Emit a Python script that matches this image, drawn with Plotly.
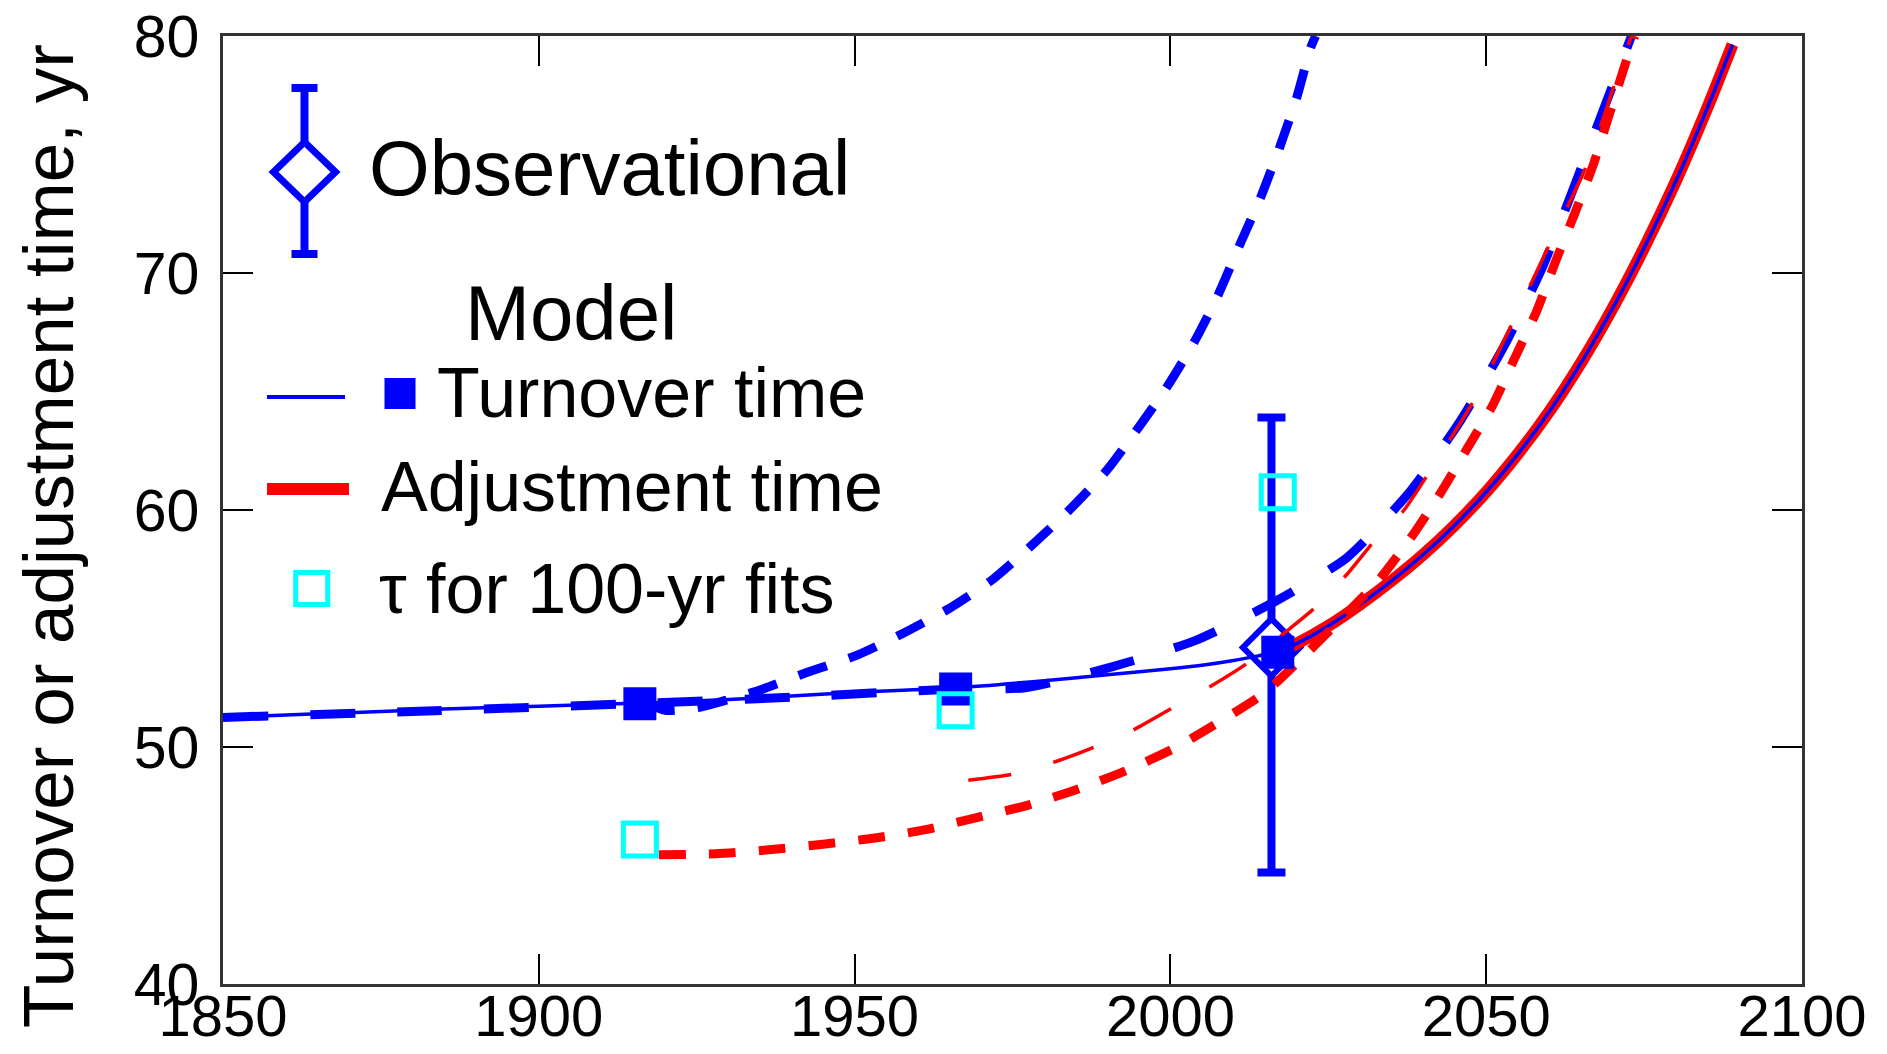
import plotly.graph_objects as go

# ---------------- data ----------------
# Model turnover time (thin solid blue)
turn_years = [1850, 1860, 1870, 1880, 1890, 1900, 1910, 1917, 1930, 1940, 1950, 1966,
              1980, 1990, 2000, 2005, 2010, 2015, 2017, 2020, 2025, 2030, 2035, 2040,
              2045, 2050, 2055, 2060, 2065, 2070, 2075, 2080, 2085, 2089]
turn_vals = [51.25, 51.35, 51.45, 51.55, 51.65, 51.72, 51.8, 51.86, 52.0, 52.15, 52.3, 52.5,
             52.8, 53.05, 53.3, 53.45, 53.65, 53.9, 54.0, 54.36, 55.11, 56.01, 57.01, 58.11,
             59.36, 60.76, 62.36, 64.16, 66.21, 68.51, 71.06, 73.86, 76.96, 79.64]

# Model adjustment time (thick solid red)
adj_years = [2017, 2020, 2025, 2030, 2035, 2040, 2045, 2050, 2055, 2060, 2065, 2070,
             2075, 2080, 2085, 2089]
adj_vals = [54.0, 54.36, 55.11, 56.01, 57.01, 58.11, 59.36, 60.76, 62.36, 64.16, 66.21, 68.51,
            71.06, 73.86, 76.96, 79.64]

# Turnover time, fit starting 1917 (blue short dashes, steep)
tA_years = [1917, 1920, 1925, 1930, 1935, 1942, 1950.6, 1957.7, 1965, 1972, 1978, 1984,
            1990, 1995, 1999.6, 2004, 2007.6, 2011, 2014.3, 2017.3, 2020, 2022.2, 2023]
tA_vals = [51.85, 51.55, 51.65, 52.0, 52.4, 53.1, 53.9, 54.8, 55.85, 57.1, 58.5, 60.0,
           61.7, 63.5, 65.25, 67.2, 69.1, 71.2, 73.2, 75.3, 77.4, 79.5, 80.0]

# Turnover time, fit starting 1966 (blue long dashes)
tB_years = [1850, 1880, 1917, 1940, 1966, 1977, 1991, 2004, 2017, 2028, 2038, 2046,
            2053, 2059, 2064, 2069, 2073]
tB_vals = [51.25, 51.5, 51.85, 52.1, 52.45, 52.5, 53.4, 54.5, 56.2, 58.0, 60.8, 63.8,
           67.0, 70.3, 73.7, 77.2, 80.0]

# Adjustment time, fit starting 1968 (thin red dashes)
aC_years = [1968, 1975, 1982, 1988, 1994, 2000, 2006, 2012, 2018, 2023, 2028, 2032,
            2037, 2041, 2048, 2054, 2060, 2066, 2070.5, 2073]
aC_vals = [48.6, 48.85, 49.4, 50.0, 50.7, 51.6, 52.5, 53.5, 54.8, 55.9, 57.3, 58.6,
           60.0, 61.6, 64.6, 67.8, 71.2, 74.6, 78.1, 80.0]

# Adjustment time, fit starting 1919 (thick red short dashes)
aD_years = [1919, 1928, 1936, 1945, 1953, 1961, 1969, 1977.5, 1985.6, 1993, 2001, 2008,
            2015, 2021, 2027, 2033, 2038, 2042.5, 2047, 2051, 2054.5, 2058, 2061, 2064,
            2067, 2069.5, 2072, 2073.5]
aD_vals = [45.45, 45.5, 45.65, 45.9, 46.15, 46.5, 47.0, 47.55, 48.25, 49.0, 50.0, 51.1,
           52.3, 53.8, 55.4, 57.05, 58.8, 60.6, 62.6, 64.4, 66.4, 68.4, 70.5, 72.5,
           74.6, 76.7, 78.8, 80.0]

# Model turnover time markers (filled squares)
sq_years = [1916, 1966, 2017]
sq_vals = [51.83, 52.45, 54.0]

# tau for 100-yr fits (open cyan squares)
tau_years = [1916, 1966, 2017]
tau_vals = [46.1, 51.55, 60.75]

# Observational estimate with error bar
obs_year = [2016]
obs_val = [54.2]
obs_plus = [9.7]
obs_minus = [9.5]

x_ticks = [1850, 1900, 1950, 2000, 2050, 2100]
y_ticks = [40, 50, 60, 70, 80]

BLUE = "#0000ff"
RED = "#ff0000"
CYAN = "#00ffff"
FONT = "Liberation Sans, Arial, Helvetica, sans-serif"

fig = go.Figure()

# Observational (error bar + white-filled diamond)
fig.add_trace(go.Scatter(
    x=obs_year, y=obs_val, mode="markers",
    marker=dict(symbol="diamond", size=44, color="white", line=dict(color=BLUE, width=6)),
    error_y=dict(type="data", symmetric=False, array=obs_plus, arrayminus=obs_minus,
                 color=BLUE, thickness=8, width=14),
    showlegend=False, hoverinfo="skip"))

# blue dashed fits
fig.add_trace(go.Scatter(x=tA_years, y=tA_vals, mode="lines",
                         line=dict(color=BLUE, width=9, dash="30px,23px", shape="spline", smoothing=0.6),
                         showlegend=False))
fig.add_trace(go.Scatter(x=tB_years, y=tB_vals, mode="lines",
                         line=dict(color=BLUE, width=9, dash="45px,42px", shape="spline", smoothing=0.6),
                         showlegend=False))

# red thick solid adjustment time
fig.add_trace(go.Scatter(x=adj_years, y=adj_vals, mode="lines",
                         line=dict(color=RED, width=12, shape="spline", smoothing=0.8),
                         showlegend=False))
# thin blue turnover time
fig.add_trace(go.Scatter(x=turn_years, y=turn_vals, mode="lines",
                         line=dict(color=BLUE, width=3.5, shape="spline", smoothing=0.8),
                         showlegend=False))

# red dashed fits
fig.add_trace(go.Scatter(x=aD_years, y=aD_vals, mode="lines",
                         line=dict(color=RED, width=9, dash="27px,23px", shape="spline", smoothing=0.6),
                         showlegend=False))
fig.add_trace(go.Scatter(x=aC_years, y=aC_vals, mode="lines",
                         line=dict(color=RED, width=3.5, dash="43px,44px", shape="spline", smoothing=0.6),
                         showlegend=False))

# filled squares
fig.add_trace(go.Scatter(x=sq_years, y=sq_vals, mode="markers",
                         marker=dict(symbol="square", size=33, color=BLUE, line=dict(width=0)),
                         showlegend=False))
# cyan open squares
fig.add_trace(go.Scatter(x=tau_years, y=tau_vals, mode="markers",
                         marker=dict(symbol="square", size=33, color="rgba(0,0,0,0)",
                                     line=dict(color=CYAN, width=5)),
                         showlegend=False))

# ---------------- legend (drawn in paper coordinates) ----------------
L, T, W, H = 223.0, 36.0, 1579.0, 948.0


def px(x):
    return (x - L) / W


def py(y):
    return (T + H - y) / H


shapes = []
annotations = []

# observational key: error bar + diamond
cx, cy = 304.5, 172
shapes.append(dict(type="line", xref="paper", yref="paper", x0=px(cx), x1=px(cx),
                   y0=py(88), y1=py(254), line=dict(color=BLUE, width=8), layer="above"))
for yy in (88, 254):
    shapes.append(dict(type="line", xref="paper", yref="paper", x0=px(cx - 13), x1=px(cx + 13),
                       y0=py(yy), y1=py(yy), line=dict(color=BLUE, width=8), layer="above"))
dpath = "M {a},{b} L {c},{d} L {e},{f} L {g},{h} Z".format(
    a=px(cx - 31), b=py(cy), c=px(cx), d=py(cy - 30),
    e=px(cx + 31), f=py(cy), g=px(cx), h=py(cy + 30))
shapes.append(dict(type="path", xref="paper", yref="paper", path=dpath,
                   fillcolor="white", line=dict(color=BLUE, width=7), layer="above"))

# turnover key
shapes.append(dict(type="line", xref="paper", yref="paper", x0=px(267), x1=px(345),
                   y0=py(397), y1=py(397), line=dict(color=BLUE, width=4), layer="above"))
shapes.append(dict(type="rect", xref="paper", yref="paper", x0=px(384.5), x1=px(415.5),
                   y0=py(409), y1=py(378), fillcolor=BLUE, line=dict(width=0), layer="above"))
# adjustment key
shapes.append(dict(type="line", xref="paper", yref="paper", x0=px(267), x1=px(349),
                   y0=py(489), y1=py(489), line=dict(color=RED, width=12), layer="above"))
# tau key
shapes.append(dict(type="rect", xref="paper", yref="paper", x0=px(295.7), x1=px(327.7),
                   y0=py(604.5), y1=py(572.5), fillcolor="rgba(0,0,0,0)",
                   line=dict(color=CYAN, width=5), layer="above"))

legend_texts = [
    ("Observational", 367, 168, 78),
    ("Model", 463, 313, 78),
    ("Turnover time", 435, 393, 70),
    ("Adjustment time", 379, 487, 70),
    ("\u03c4 for 100-yr fits", 377, 589, 70),
]
for txt, x0, y0, fs in legend_texts:
    annotations.append(dict(text=txt, xref="paper", yref="paper", x=px(x0), y=py(y0),
                            xanchor="left", yanchor="middle", showarrow=False,
                            font=dict(family=FONT, size=fs, color="black")))

# y-axis title
annotations.append(dict(text="Turnover or adjustment time, yr", xref="paper", yref="paper",
                        x=px(48), y=py(536), xanchor="center", yanchor="middle",
                        textangle=-90, showarrow=False,
                        font=dict(family=FONT, size=71, color="black")))

fig.update_layout(
    width=1887, height=1054,
    margin=dict(l=223, r=85, t=36, b=70, pad=0, autoexpand=False),
    paper_bgcolor="white", plot_bgcolor="white",
    showlegend=False,
    shapes=shapes, annotations=annotations,
    font=dict(family=FONT, color="black"),
)
fig.update_xaxes(range=[1850, 2100], tickvals=x_ticks, ticktext=[str(v) for v in x_ticks],
                 ticks="inside", ticklen=30, tickwidth=1.5, tickcolor="black",
                 showline=True, linecolor="#333333", linewidth=2.5, mirror="ticks",
                 showgrid=False, zeroline=False, automargin=False, ticklabelstandoff=-20,
                 tickfont=dict(family=FONT, size=58, color="black"))
fig.update_yaxes(range=[40, 80], tickvals=y_ticks, ticktext=[str(v) for v in y_ticks],
                 ticks="inside", ticklen=30, tickwidth=1.5, tickcolor="black",
                 showline=True, linecolor="#333333", linewidth=2.5, mirror="ticks",
                 showgrid=False, zeroline=False, automargin=False, ticklabelstandoff=9,
                 tickfont=dict(family=FONT, size=59, color="black"))

fig.write_html("out.html")
